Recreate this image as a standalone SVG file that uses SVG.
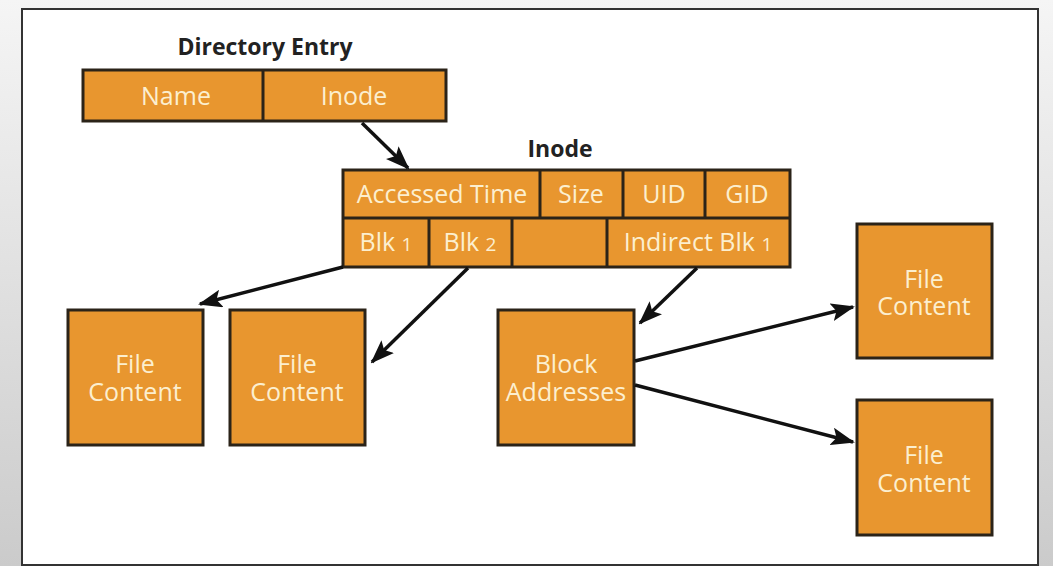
<svg xmlns="http://www.w3.org/2000/svg" width="1053" height="566" viewBox="0 0 1053 566">
<defs>
<linearGradient id="bg" x1="0" y1="0" x2="0" y2="1">
<stop offset="0" stop-color="#f5f5f5"/>
<stop offset="1" stop-color="#cbcbcb"/>
</linearGradient>
<marker id="ah" viewBox="0 0 24 18" refX="22" refY="9" markerWidth="24" markerHeight="18" markerUnits="userSpaceOnUse" orient="auto">
<path d="M0,0 L24,9 L0,18 L5,9 Z" fill="#111"/>
</marker>
<style>
.box{fill:#e8962f;stroke:#2b2318;stroke-width:3}
.div{stroke:#2b2318;stroke-width:3}
.lbl{font-family:"Open Sans","Noto Sans",sans-serif;font-size:25px;fill:#fcefcf;text-anchor:middle}
.ttl{font-family:"Open Sans","Noto Sans",sans-serif;font-size:23px;font-weight:bold;fill:#222;text-anchor:middle}
.sm{font-size:19px}
.con{stroke:#111;stroke-width:3.5;fill:none;marker-end:url(#ah)}
</style>
</defs>
<rect x="0" y="0" width="1053" height="566" fill="url(#bg)"/>
<rect x="22" y="9" width="1016" height="556" fill="#fff" stroke="#333" stroke-width="2"/>

<g id="directory-entry">
<text class="ttl" x="265" y="55">Directory Entry</text>
<rect class="box" x="83" y="70" width="363" height="51"/>
<line class="div" x1="263" y1="70" x2="263" y2="121"/>
<text class="lbl" x="176" y="105">Name</text>
<text class="lbl" x="354" y="105">Inode</text>
</g>

<g id="inode">
<text class="ttl" x="560" y="157">Inode</text>
<rect class="box" x="343" y="170" width="447" height="97"/>
<line class="div" x1="343" y1="218" x2="790" y2="218"/>
<line class="div" x1="540" y1="170" x2="540" y2="218"/>
<line class="div" x1="623" y1="170" x2="623" y2="218"/>
<line class="div" x1="705" y1="170" x2="705" y2="218"/>
<line class="div" x1="429" y1="218" x2="429" y2="267"/>
<line class="div" x1="512" y1="218" x2="512" y2="267"/>
<line class="div" x1="607" y1="218" x2="607" y2="267"/>
<text class="lbl" x="442" y="203">Accessed Time</text>
<text class="lbl" x="581" y="203">Size</text>
<text class="lbl" x="664" y="203">UID</text>
<text class="lbl" x="747" y="203">GID</text>
<text class="lbl" x="386" y="251">Blk <tspan class="sm">1</tspan></text>
<text class="lbl" x="470" y="251">Blk <tspan class="sm">2</tspan></text>
<text class="lbl" x="698" y="251">Indirect Blk <tspan class="sm">1</tspan></text>
</g>

<g id="file-content-1">
<rect class="box" x="68" y="310" width="135" height="135"/>
<text class="lbl" x="135" y="373">File<tspan x="135" dy="28">Content</tspan></text>
</g>
<g id="file-content-2">
<rect class="box" x="230" y="310" width="135" height="135"/>
<text class="lbl" x="297" y="373">File<tspan x="297" dy="28">Content</tspan></text>
</g>
<g id="block-addresses">
<rect class="box" x="498" y="310" width="136" height="135"/>
<text class="lbl" x="566" y="373">Block<tspan x="566" dy="28">Addresses</tspan></text>
</g>
<g id="file-content-3">
<rect class="box" x="857" y="224" width="135" height="134"/>
<text class="lbl" x="924" y="288">File<tspan x="924" dy="27">Content</tspan></text>
</g>
<g id="file-content-4">
<rect class="box" x="857" y="400" width="135" height="135"/>
<text class="lbl" x="924" y="464">File<tspan x="924" dy="28">Content</tspan></text>
</g>

<g id="connectors">
<line class="con" x1="362" y1="123" x2="408" y2="168"/>
<line class="con" x1="343" y1="267" x2="200" y2="304"/>
<line class="con" x1="468" y1="268" x2="372" y2="362"/>
<line class="con" x1="697" y1="268" x2="640" y2="323"/>
<line class="con" x1="635" y1="361" x2="853" y2="307"/>
<line class="con" x1="635" y1="385" x2="853" y2="442"/>
</g>
</svg>
